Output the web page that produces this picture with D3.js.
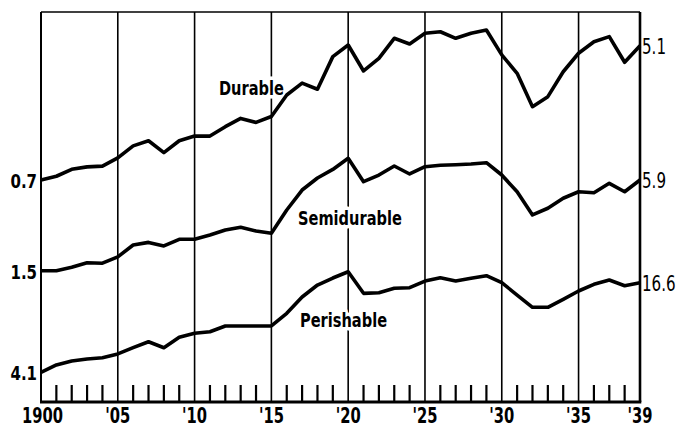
<!DOCTYPE html>
<html lang="en">
<head>
<meta charset="utf-8">
<script src="https://cdn.jsdelivr.net/npm/d3@7/dist/d3.min.js"></script>
<style>
  body { margin: 0; background: #fff; }
  svg { display: block; font-family: "DejaVu Sans", sans-serif; }
</style>
</head>
<body>
<svg width="676" height="427" id="chart"></svg>
<script>
// years shown on the chart
const years = d3.range(1900, 1940)

// series values (ratio scale)
const durable = [0.70, 0.74, 0.82, 0.85, 0.86, 0.97, 1.16, 1.25, 1.05, 1.25,
    1.34, 1.34, 1.54, 1.74, 1.64, 1.79, 2.46, 2.93, 2.68, 4.34,
    5.15, 3.51, 4.23, 5.69, 5.23, 6.13, 6.27, 5.69, 6.13, 6.43,
    4.45, 3.39, 2.07, 2.40, 3.47, 4.56, 5.41, 5.83, 3.99, 5.10]
const semidurable = [1.50, 1.50, 1.58, 1.69, 1.68, 1.85, 2.21, 2.30, 2.18, 2.41,
    2.41, 2.57, 2.77, 2.89, 2.73, 2.64, 3.75, 5.07, 6.08, 6.92,
    8.19, 5.75, 6.36, 7.29, 6.46, 7.21, 7.37, 7.43, 7.51, 7.66,
    6.36, 4.94, 3.48, 3.85, 4.48, 4.94, 4.87, 5.61, 4.94, 5.90]
const perishable = [4.10, 4.60, 4.89, 5.05, 5.15, 5.46, 6.02, 6.61, 6.02, 7.08,
    7.54, 7.73, 8.45, 8.45, 8.45, 8.45, 10.30, 13.28, 16.02, 17.87,
    19.71, 14.07, 14.21, 15.22, 15.36, 17.05, 17.95, 17.05, 17.79, 18.52,
    16.61, 13.70, 11.31, 11.31, 12.81, 14.59, 16.20, 17.32, 15.85, 16.61]

const seriesNames = ["Durable", "Semidurable", "Perishable"]
const startLabels = ["0.7", "1.5", "4.1"]
const endLabels = ["5.1", "5.9", "16.6"]

const yearTicks = [1900, 1905, 1910, 1915, 1920, 1925, 1930, 1935, 1939]
const yearTickLabels = ["1900", "'05", "'10", "'15", "'20", "'25", "'30", "'35", "'39"]

// layout
const plotLeft = 41, plotRight = 640, plotTop = 12, plotBottom = 402
// pixel band of each series (start value -> end value)
const bands = [[180, 45.7], [270.7, 180], [372.3, 282.7]]
// where the series names sit
const namePos = [[219, 95], [298, 225], [300, 327]]

let svg = d3.select("#chart")

let x = d3.scaleLinear().domain([1900, 1939]).range([plotLeft, plotRight])

const allSeries = [durable, semidurable, perishable]
const yScales = allSeries.map((s, i) =>
    d3.scaleLog().domain([s[0], s[s.length - 1]]).range(bands[i]))

// gridlines every five years
svg.append("g")
    .selectAll("line")
    .data(yearTicks.filter(d => d > 1900 && d < 1939))
    .enter()
    .append("line")
    .attr("x1", d => x(d)).attr("x2", d => x(d))
    .attr("y1", plotTop).attr("y2", plotBottom)
    .attr("stroke", "#000")
    .attr("stroke-width", 1.6)

// small ticks for the other years
svg.append("g")
    .selectAll("line")
    .data(years.filter(d => d % 5 != 0 && d != 1939))
    .enter()
    .append("line")
    .attr("x1", d => x(d)).attr("x2", d => x(d))
    .attr("y1", plotBottom - 17).attr("y2", plotBottom)
    .attr("stroke", "#000")
    .attr("stroke-width", 2.2)

// frame
svg.append("line").attr("x1", plotLeft).attr("x2", plotRight).attr("y1", plotTop).attr("y2", plotTop)
    .attr("stroke", "#000").attr("stroke-width", 1.6)
svg.append("line").attr("x1", plotLeft).attr("x2", plotLeft).attr("y1", plotTop).attr("y2", plotBottom)
    .attr("stroke", "#000").attr("stroke-width", 2)
svg.append("line").attr("x1", plotRight).attr("x2", plotRight).attr("y1", plotTop).attr("y2", plotBottom)
    .attr("stroke", "#000").attr("stroke-width", 2.6)
svg.append("line").attr("x1", plotLeft - 1).attr("x2", plotRight + 1.3).attr("y1", plotBottom).attr("y2", plotBottom)
    .attr("stroke", "#000").attr("stroke-width", 3.2)

// helper for squeezed text
function label(g, txt, px, py, opts) {
    let t = g.append("g")
        .attr("transform", "translate(" + px + "," + py + ") scale(" + opts.sx + ",1)")
        .append("text")
        .text(txt)
        .attr("font-size", opts.size)
        .attr("font-weight", opts.weight || "bold")
        .attr("text-anchor", opts.anchor || "start")
        .attr("fill", "#000")
    if (opts.halo) {
        t.attr("stroke", "#fff").attr("stroke-width", 7)
            .attr("paint-order", "stroke").attr("stroke-linejoin", "round")
    }
    return t
}

// series names (white halo cuts the gridlines, like the original)
let names = svg.append("g")
seriesNames.forEach((n, i) => {
    label(names, n, namePos[i][0], namePos[i][1], { size: 20, sx: 0.73, halo: true })
})

// lines
allSeries.forEach((s, i) => {
    svg.append("path")
        .datum(s)
        .attr("fill", "none")
        .attr("stroke", "#000")
        .attr("stroke-width", 3.6)
        .attr("stroke-linejoin", "round")
        .attr("d", d3.line()
            .x((d, j) => x(years[j]))
            .y(d => yScales[i](d)))
})

// value labels at both ends
let ends = svg.append("g")
allSeries.forEach((s, i) => {
    label(ends, startLabels[i], plotLeft - 4, yScales[i](s[0]) + 8, { size: 20, sx: 0.75, anchor: "end" })
    label(ends, endLabels[i], plotRight + 2, yScales[i](s[s.length - 1]) + 8,
        { size: 21, sx: 0.72, weight: "normal" })
})

// year labels
let xl = svg.append("g")
yearTicks.forEach((d, i) => {
    label(xl, yearTickLabels[i], x(d) + (i == 0 ? 1.5 : 0), 423, { size: 22, sx: 0.67, anchor: "middle" })
})
</script>
</body>
</html>
